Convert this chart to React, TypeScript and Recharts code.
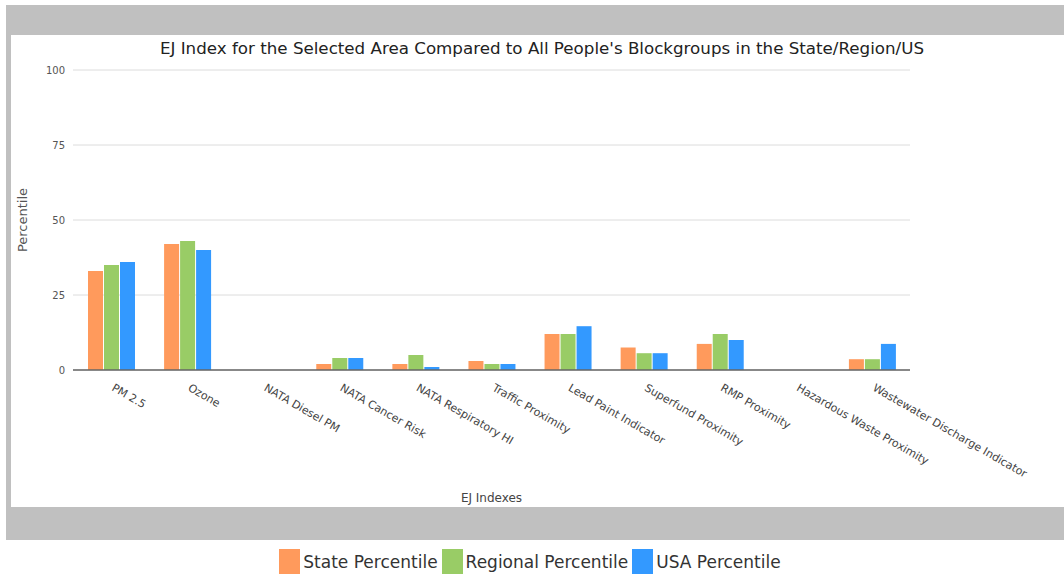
import { BarChart, Bar, XAxis, YAxis, CartesianGrid } from 'recharts';

const indexes = [
  'PM 2.5',
  'Ozone',
  'NATA Diesel PM',
  'NATA Cancer Risk',
  'NATA Respiratory HI',
  'Traffic Proximity',
  'Lead Paint Indicator',
  'Superfund Proximity',
  'RMP Proximity',
  'Hazardous Waste Proximity',
  'Wastewater Discharge Indicator',
];

const statePct = [33, 42, 0, 2, 2, 3, 12, 7.5, 8.7, 0, 3.6];
const regionalPct = [35, 43, 0, 4, 5, 2, 12, 5.6, 12, 0, 3.6];
const usaPct = [36, 40, 0, 4, 1, 2, 14.6, 5.6, 10, 0, 8.7];

const yTicks = [0, 25, 50, 75, 100];

const series = [
  { key: 'state', name: 'State Percentile', color: '#FF9A5C' },
  { key: 'regional', name: 'Regional Percentile', color: '#99CC66' },
  { key: 'usa', name: 'USA Percentile', color: '#3399FF' },
];

const data = indexes.map((name, i) => ({
  name,
  state: statePct[i],
  regional: regionalPct[i],
  usa: usaPct[i],
}));

const FONT = '"DejaVu Sans", Verdana, sans-serif';

const SlantTick = (props: any) => {
  const { x, y, payload } = props;
  return (
    <text
      x={x}
      y={y + 12}
      transform={`rotate(30, ${x}, ${y + 12})`}
      textAnchor="start"
      fontSize={11}
      fontFamily={FONT}
      fill="#444"
    >
      {payload.value}
    </text>
  );
};

export default function App() {
  return (
    <div style={{ position: 'absolute', left: 0, top: 0, width: 1064, height: 575, background: '#fff', fontFamily: FONT }}>
      {/* gray frame */}
      <div style={{ position: 'absolute', left: 6, top: 5, width: 1058, height: 535, background: '#c0c0c0' }} />
      <div style={{ position: 'absolute', left: 11, top: 35, width: 1053, height: 472, background: '#fff' }} />

      <div
        style={{
          position: 'absolute',
          left: 0,
          top: 38,
          width: 1064,
          textAlign: 'center',
          fontSize: 16.7,
          color: '#222',
          paddingLeft: 20,
          boxSizing: 'border-box',
        }}
      >
        EJ Index for the Selected Area Compared to All People's Blockgroups in the State/Region/US
      </div>

      <div style={{ position: 'absolute', left: 0, top: 0 }}>
        <BarChart
          width={1064}
          height={540}
          data={data}
          margin={{ top: 70, right: 154, bottom: 35, left: 13 }}
          barSize={15}
          barGap={1}
        >
          <CartesianGrid vertical={false} stroke="#dcdcdc" />
          <XAxis
            dataKey="name"
            interval={0}
            height={135}
            tickLine={false}
            axisLine={{ stroke: '#666', strokeWidth: 1.5 }}
            tick={<SlantTick />}
            label={{ value: 'EJ Indexes', position: 'insideBottom', offset: 3, fontSize: 12, fill: '#444', fontFamily: FONT }}
          />
          <YAxis
            width={60}
            domain={[0, 100]}
            ticks={yTicks}
            axisLine={false}
            tickLine={false}
            tick={{ fontSize: 10, fill: '#555', fontFamily: FONT }}
            label={{
              value: 'Percentile',
              angle: -90,
              position: 'insideLeft',
              offset: 9,
              fontSize: 13,
              fill: '#555',
              fontFamily: FONT,
              style: { textAnchor: 'middle' },
            }}
          />
          {series.map((s) => (
            <Bar key={s.key} dataKey={s.key} name={s.name} fill={s.color} isAnimationActive={false} />
          ))}
        </BarChart>
      </div>

      {/* legend */}
      <div
        style={{
          position: 'absolute',
          left: 0,
          top: 549,
          width: 1064,
          display: 'flex',
          justifyContent: 'center',
          alignItems: 'center',
          fontSize: 17,
          color: '#333',
        }}
      >
        {series.map((s) => (
          <div key={s.key} style={{ display: 'flex', alignItems: 'center', marginRight: 4 }}>
            <span style={{ display: 'inline-block', width: 21, height: 25, background: s.color, marginRight: 3 }} />
            <span>{s.name}</span>
          </div>
        ))}
      </div>
    </div>
  );
}
